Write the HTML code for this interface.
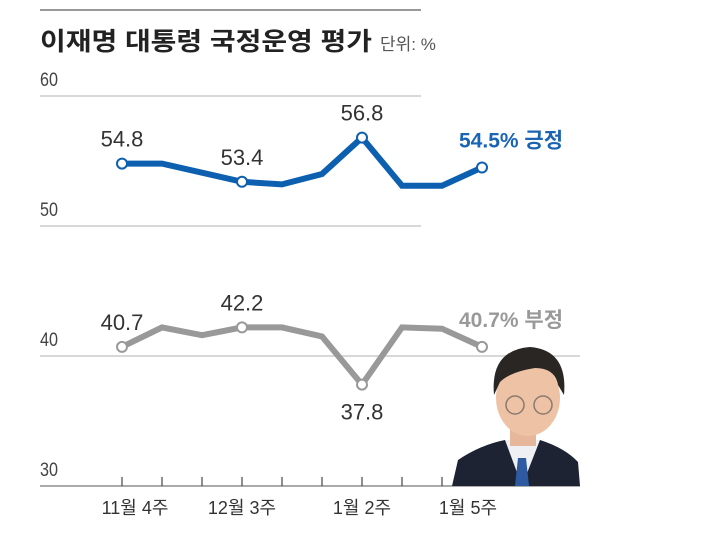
<!DOCTYPE html>
<html><head><meta charset="utf-8"><style>
html,body{margin:0;padding:0;background:#fff;}
body{width:719px;height:540px;overflow:hidden;font-family:"Liberation Sans","Noto Sans CJK KR",sans-serif;}
svg text{font-family:"Liberation Sans","Noto Sans CJK KR",sans-serif;}
</style></head><body>
<svg id="chart" width="719" height="540" viewBox="0 0 719 540" xmlns="http://www.w3.org/2000/svg">
<line x1="40" y1="10" x2="421" y2="10" stroke="#999" stroke-width="2"/>
<text x="40" y="50" font-size="25" font-weight="bold" fill="#222" textLength="332" lengthAdjust="spacingAndGlyphs">이재명 대통령 국정운영 평가</text>
<text x="380" y="50" font-size="17" fill="#555">단위: %</text>
<g id="grid"></g>
<g>
<path d="M452 486 L458 460 Q480 445 505 440 L540 440 Q565 448 578 462 L580 486 Z" fill="#1d2333"/>
<path d="M505 440 L522 486 L540 440 Z" fill="#eef0f4"/>
<path d="M518 458 L526 458 L529 486 L515 486 Z" fill="#2d5aa0"/>
<rect x="510" y="418" width="26" height="28" fill="#e6b79a"/>
<ellipse cx="528" cy="398" rx="32" ry="38" fill="#eec2a4"/>
<path d="M494 395 Q490 350 530 347 Q568 350 564 395 L558 385 Q555 368 535 368 Q510 372 500 382 Z" fill="#2a2624"/>
<circle cx="515" cy="405" r="9" fill="none" stroke="#8a7a70" stroke-width="1.5"/>
<circle cx="543" cy="405" r="9" fill="none" stroke="#8a7a70" stroke-width="1.5"/>
</g>
<g id="series"></g>
</svg>
<script>
const categories=["11월 4주","","","12월 3주","","","1월 2주","","","1월 5주"];
const positive=[54.8,54.8,54.1,53.4,53.2,54.0,56.8,53.1,53.1,54.5];
const negative=[40.7,42.2,41.6,42.2,42.2,41.5,37.8,42.2,42.1,40.7];
const yTicks=[60,50,40,30];
const posLabels=[[0,"54.8"],[3,"53.4"],[6,"56.8"]];
const negLabels=[[0,"40.7","above"],[3,"42.2","above"],[6,"37.8","below"]];
const NS="http://www.w3.org/2000/svg";
const x=i=>122+i*40;
const y=v=>226-(v-50)*13;
function mk(tag,attrs,parent){const e=document.createElementNS(NS,tag);for(const k in attrs)e.setAttribute(k,attrs[k]);parent.appendChild(e);return e;}
const grid=document.getElementById('grid'),ser=document.getElementById('series');
yTicks.forEach(t=>{
 const l=mk('line',{x1:40,y1:y(t),x2:t>=50?421:580,y2:y(t),stroke:t===30?'#aaa':'#ccc','stroke-width':t===30?2:1.5},grid);
 
 
 const tx=mk('text',{x:40,y:y(t)-10,'font-size':19,fill:'#444',transform:'translate(40 0) scale(0.85 1) translate(-40 0)'},grid);tx.textContent=t;
 
 
});
categories.forEach((c,i)=>{
 const tk=mk('line',{x1:x(i),y1:y(30)-9,x2:x(i),y2:y(30),stroke:'#444','stroke-width':1.2},grid);
 
 
 if(c){const t=mk('text',{x:x(i)+(i===9?-14:i===0?13:0),y:514,'font-size':18,fill:'#333','text-anchor':'middle'},grid);t.textContent=c;
 
 }
});
function drawSeries(vals,color,name,w){
 const p=mk('polyline',{points:vals.map((v,i)=>x(i)+','+y(v)).join(' '),fill:'none',stroke:color,'stroke-width':w,'stroke-linejoin':'miter'},ser);
 
 
 [0,3,6,9].forEach(i=>{const c=mk('circle',{cx:x(i),cy:y(vals[i]),r:5,fill:'#fff',stroke:color,'stroke-width':2},ser);
 
 });
}
drawSeries(positive,'#0d5fb0','positive',6);
drawSeries(negative,'#999','negative',6);
posLabels.forEach(([i,s])=>{const t=mk('text',{x:x(i),y:y(positive[i])-17,'font-size':22,fill:'#333','text-anchor':'middle'},ser);t.textContent=s;

});
negLabels.forEach(([i,s,pos])=>{const t=mk('text',{x:x(i),y:pos==='above'?y(negative[i])-17:y(negative[i])+35,'font-size':22,fill:'#333','text-anchor':'middle'},ser);t.textContent=s;

});
const pe=mk('text',{x:459,y:y(positive[9])-20,'font-size':21,fill:'#1a64b4','font-weight':'bold'},ser);pe.textContent=positive[9]+'% 긍정';


const ne=mk('text',{x:459,y:y(negative[9])-20,'font-size':21,fill:'#999','font-weight':'bold'},ser);ne.textContent=negative[9]+'% 부정';


</script>
</body></html>
